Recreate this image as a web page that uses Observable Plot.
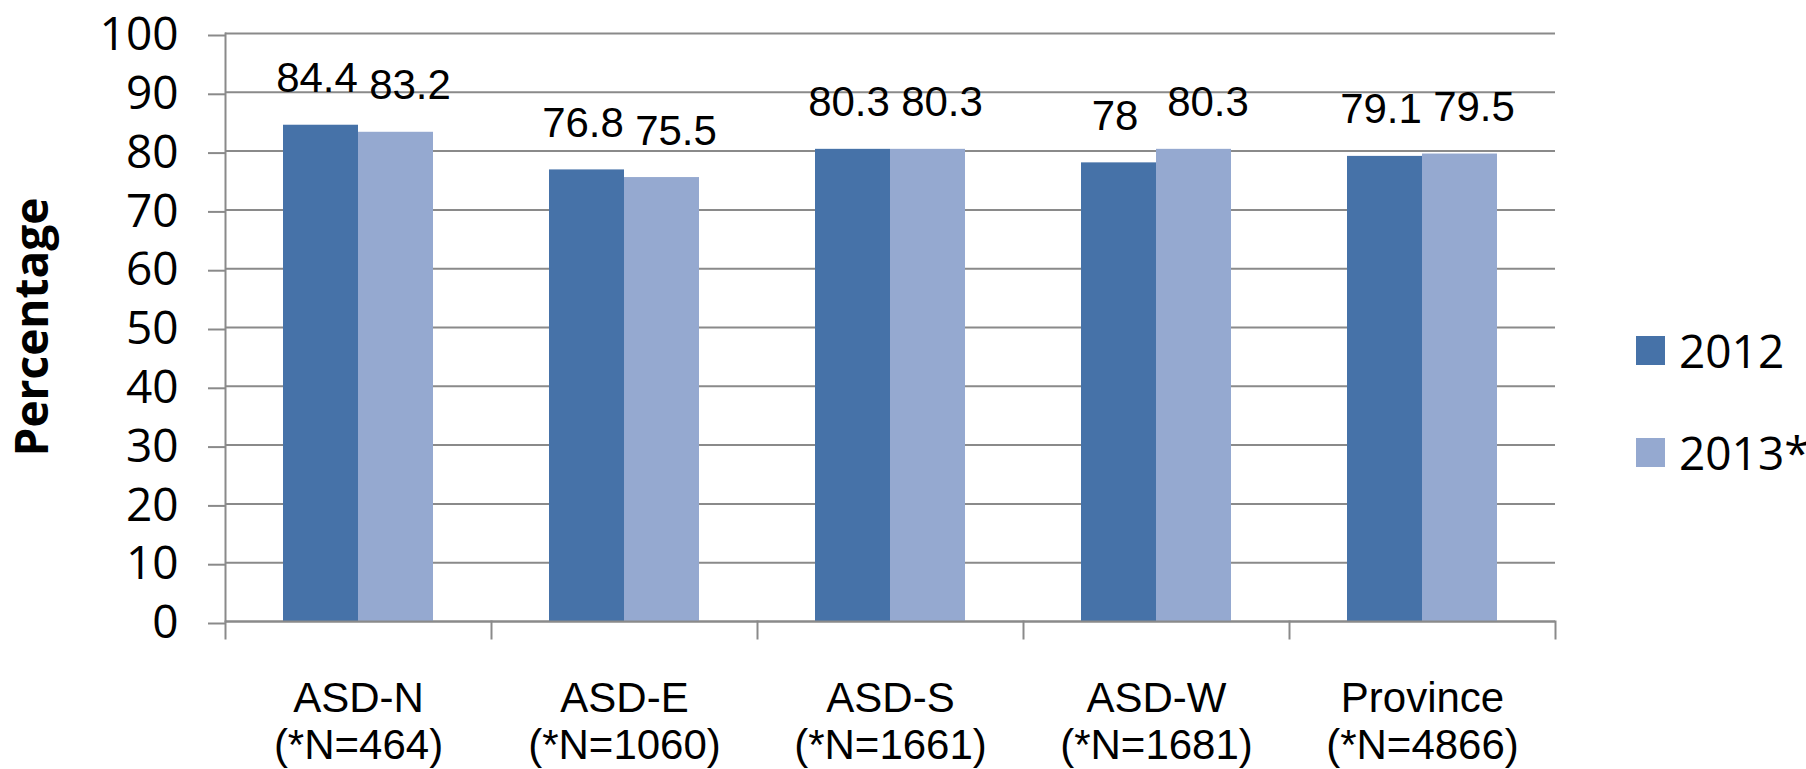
<!DOCTYPE html>
<html>
<head>
<meta charset="utf-8">
<script src="https://cdn.jsdelivr.net/npm/d3@7"></script>
<script src="https://cdn.jsdelivr.net/npm/@observablehq/plot@0.6"></script>
<style>
  html, body { margin: 0; padding: 0; background: #fff; overflow: hidden; }
  #wrap { position: relative; width: 1806px; height: 769px; }
  #ytitle {
    position: absolute; left: -120px; top: 304px; width: 300px; height: 46px;
    line-height: 46px; text-align: center; transform: rotate(-90deg);
    font-family: "Open Sans", sans-serif; font-weight: bold; font-size: 46px; color: #000;
  }
  #legend { position: absolute; left: 1636px; top: 327px; font-family: "Open Sans", sans-serif; font-size: 46px; color: #000; }
  .row { display: flex; align-items: center; height: 46px; line-height: 46px; margin-bottom: 56px; }
  .sw { width: 29px; height: 29px; margin-right: 14px; }
</style>
</head>
<body>
<div id="wrap">
  <div id="chart"></div>
  <div id="ytitle">Percentage</div>
  <div id="legend"></div>
</div>
<script>
const categories = ["ASD-N", "ASD-E", "ASD-S", "ASD-W", "Province"];
const sampleSizes = ["464", "1060", "1661", "1681", "4866"];
const years = ["2012", "2013*"];
const values2012 = [84.4, 76.8, 80.3, 78, 79.1];
const values2013 = [83.2, 75.5, 80.3, 80.3, 79.5];
const yTicks = [0, 10, 20, 30, 40, 50, 60, 70, 80, 90, 100];
const colors = ["#4672A8", "#95A9D0"];

const data = [];
categories.forEach((c, i) => {
  data.push({cat: c, year: years[0], value: values2012[i]});
  data.push({cat: c, year: years[1], value: values2013[i]});
});
const data2012 = data.filter(d => d.year === years[0]);
const data2013 = data.filter(d => d.year === years[1]);
const labelOf = Object.fromEntries(categories.map((c, i) => [c, `${c}\n(*N=${sampleSizes[i]})`]));

const W = 1806, H = 769, mt = 33, mb = 148, ml = 223, mr = 249;
const plotH = H - mt - mb;
const grid = "#8A8A8A";
const labelStyle = {fx: "cat", x: "year", y: "value", text: d => String(d.value), lineAnchor: "bottom",
  dy: -33, fontSize: 42, fontFamily: "Liberation Sans", fill: "black"};

const chart = Plot.plot({
  width: W, height: H,
  marginTop: mt, marginBottom: mb, marginLeft: ml, marginRight: mr,
  style: {background: "white", color: "black"},
  fx: {domain: categories, padding: 0, label: null},
  x: {domain: years, paddingInner: 0, paddingOuter: 0.768, axis: null},
  y: {domain: [0, 100], label: null},
  color: {domain: years, range: colors},
  marks: [
    Plot.ruleY(yTicks, {stroke: grid, strokeWidth: 2}),
    Plot.barY(data, {fx: "cat", x: "year", y: "value", fill: "year"}),
    Plot.ruleY([0], {stroke: grid, strokeWidth: 2}),
    Plot.frame({anchor: "left", stroke: grid, strokeWidth: 2, insetTop: plotH, insetBottom: -17}),
    Plot.frame({anchor: "left", stroke: grid, strokeWidth: 2, fx: categories[0]}),
    Plot.frame({anchor: "right", stroke: grid, strokeWidth: 2, insetTop: plotH, insetBottom: -17, fx: categories[categories.length - 1]}),
    Plot.axisY({ticks: yTicks, tickSize: 17, tickPadding: 30, stroke: grid, strokeWidth: 2, fill: "black",
      fontSize: 46, fontFamily: "Open Sans", label: null, dy: 2}),
    Plot.axisFx({anchor: "bottom", tickSize: 0, tickPadding: 58, fill: "black", fontSize: 42,
      fontFamily: "Liberation Sans", lineHeight: 1.1, label: null, tickFormat: c => labelOf[c]}),
    Plot.text(data2012, {...labelStyle, dx: -4}),
    Plot.text(data2013, {...labelStyle, dx: 14})
  ]
});
document.getElementById("chart").appendChild(chart);

const legend = document.getElementById("legend");
years.forEach((y, i) => {
  const row = document.createElement("div");
  row.className = "row";
  const sw = document.createElement("div");
  sw.className = "sw";
  sw.style.background = colors[i];
  const t = document.createElement("span");
  t.textContent = y;
  row.appendChild(sw);
  row.appendChild(t);
  legend.appendChild(row);
});
</script>
</body>
</html>
